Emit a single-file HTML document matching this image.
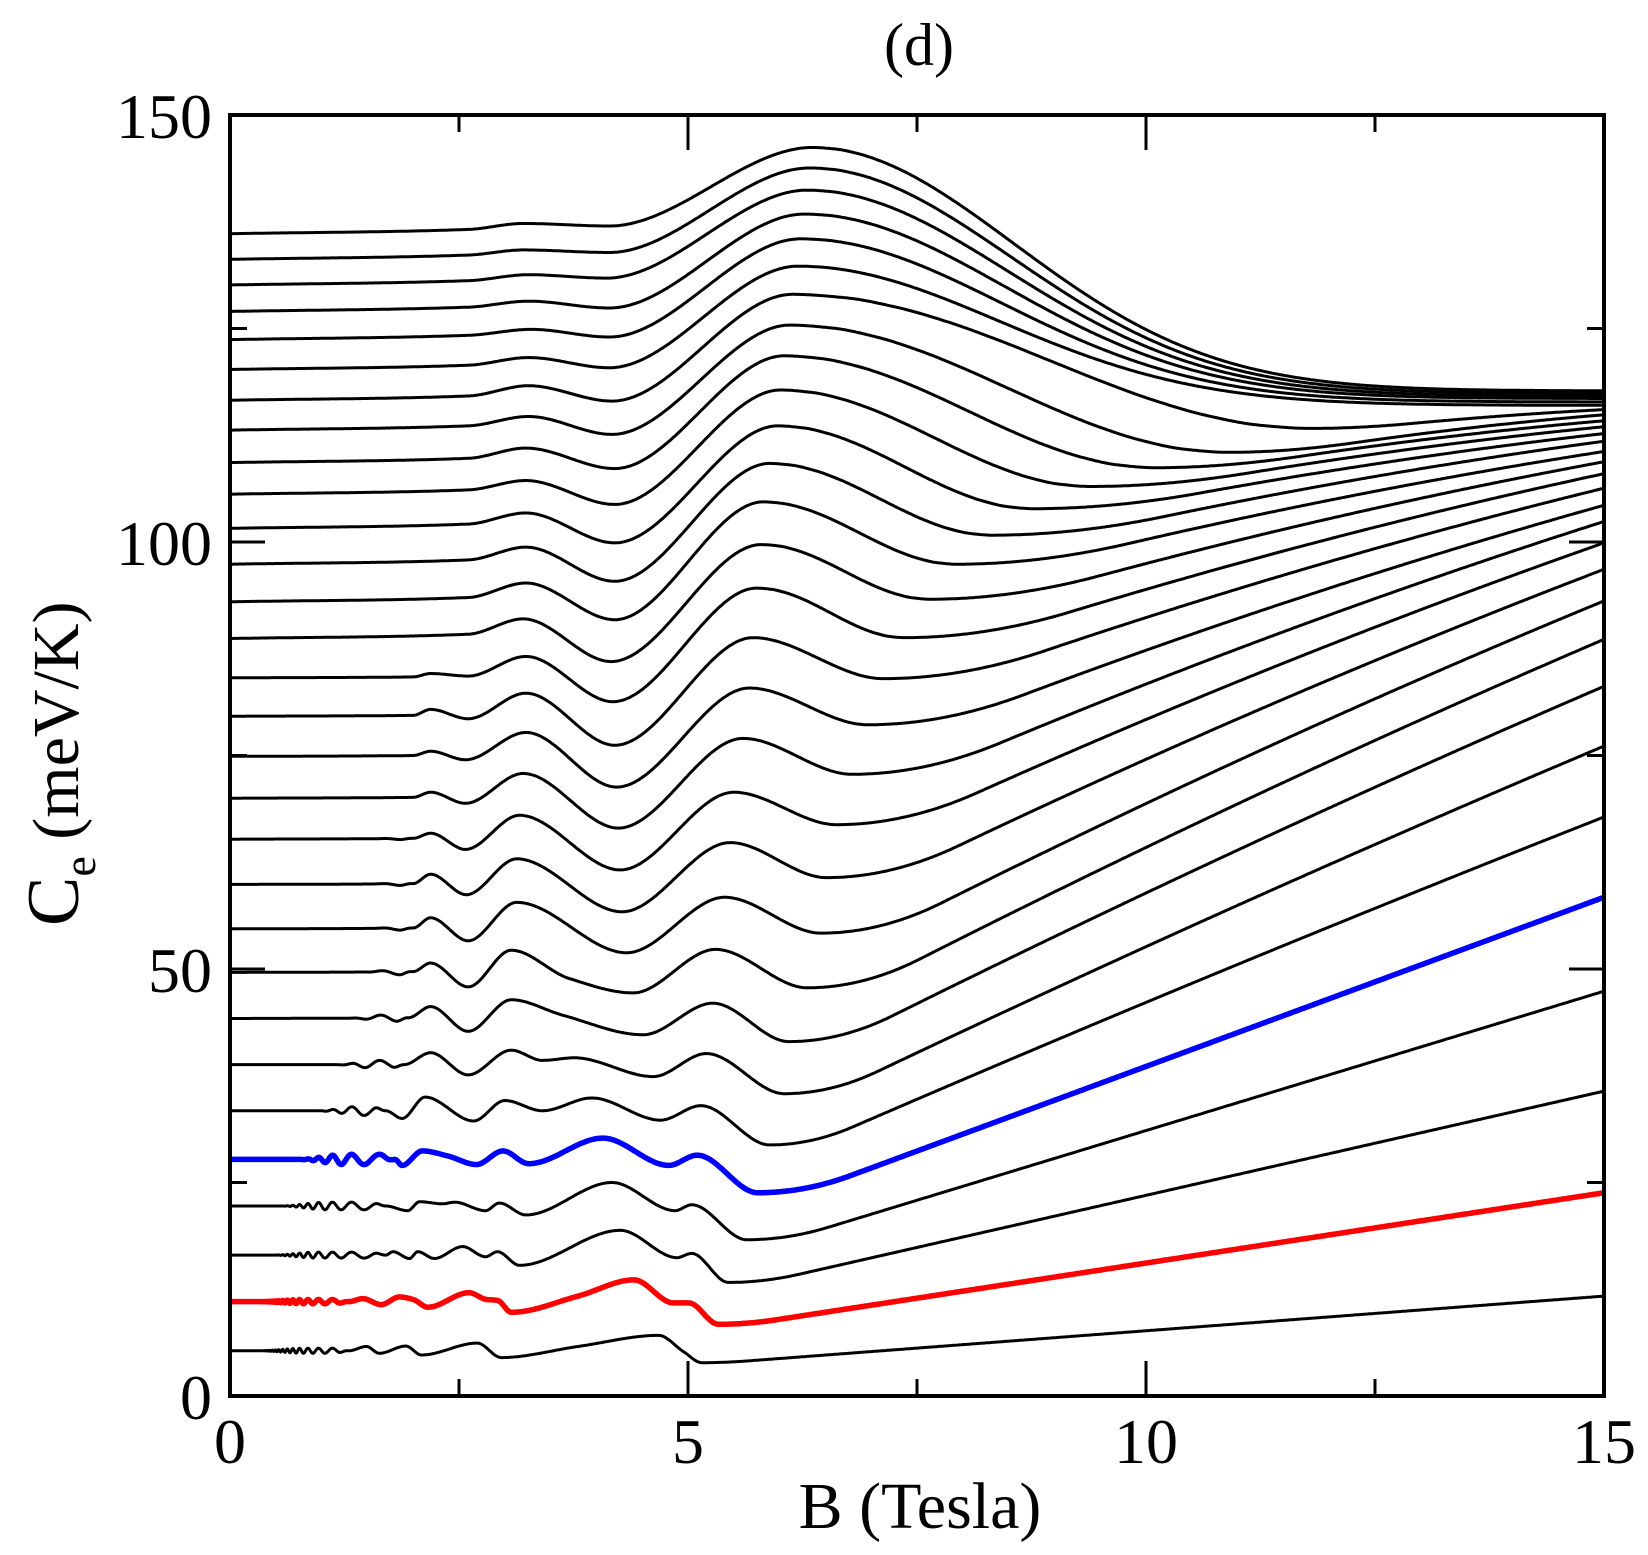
<!DOCTYPE html>
<html><head><meta charset="utf-8"><style>
html,body{margin:0;padding:0;background:#fff;}
svg{display:block;}
text{font-family:"Liberation Serif","Times New Roman",serif;fill:#000;}
</style></head><body>
<svg id="s" width="1648" height="1555" viewBox="0 0 1648 1555" xmlns="http://www.w3.org/2000/svg">
<defs><clipPath id="cp"><rect x="230" y="115" width="1374" height="1281"/></clipPath></defs>
<g id="curves" clip-path="url(#cp)"></g>
<rect x="230" y="115" width="1374" height="1281" fill="none" stroke="#000" stroke-width="4"/>
<g id="ticks" stroke="#000" stroke-width="3"></g>
<text x="919" y="65" font-size="60" text-anchor="middle">(d)</text>
<g font-size="64">
<text x="212" y="138" text-anchor="end">150</text>
<text x="212" y="565" text-anchor="end">100</text>
<text x="212" y="992" text-anchor="end">50</text>
<text x="212" y="1419" text-anchor="end">0</text>
<text x="230" y="1463" text-anchor="middle">0</text>
<text x="688" y="1463" text-anchor="middle">5</text>
<text x="1146" y="1463" text-anchor="middle">10</text>
<text x="1604" y="1463" text-anchor="middle">15</text>
</g>
<text x="920" y="1528" font-size="66" text-anchor="middle">B (Tesla)</text>
<text transform="translate(78,926) rotate(-90)" font-size="66"><tspan font-size="74">C</tspan><tspan font-size="46" dy="17">e</tspan><tspan dy="-17"> (meV/K)</tspan></text>
</svg>
<script>
(function(){
var NS="http://www.w3.org/2000/svg";
function X(b){return 230+b*91.6;}
function Y(c){return 1396-c*8.54;}
var tk=document.getElementById('ticks');
function line(x1,y1,x2,y2){var l=document.createElementNS(NS,'line');l.setAttribute('x1',x1);l.setAttribute('y1',y1);l.setAttribute('x2',x2);l.setAttribute('y2',y2);tk.appendChild(l);}
[0,5,10,15].forEach(function(b){line(X(b),1396,X(b),1361);line(X(b),115,X(b),150);});
[2.5,7.5,12.5].forEach(function(b){line(X(b),1396,X(b),1379);line(X(b),115,X(b),132);});
[0,50,100,150].forEach(function(c){line(230,Y(c),265,Y(c));line(1604,Y(c),1569,Y(c));});
[25,75,125].forEach(function(c){line(230,Y(c),247,Y(c));line(1604,Y(c),1587,Y(c));});

function pchip(xs,ys){
  var n=xs.length,h=[],d=[],m=[];
  for(var i=0;i<n-1;i++){h[i]=xs[i+1]-xs[i];d[i]=(ys[i+1]-ys[i])/h[i];}
  m[0]=d[0];m[n-1]=d[n-2];
  for(i=1;i<n-1;i++){
    if(d[i-1]*d[i]<=0)m[i]=0;
    else{var w1=2*h[i]+h[i-1],w2=h[i]+2*h[i-1];m[i]=(w1+w2)/(w1/d[i-1]+w2/d[i]);}
  }
  return function(x){
    var k=0;while(k<n-2&&x>xs[k+1])k++;
    var t=(x-xs[k])/h[k],t2=t*t,t3=t2*t;
    return (2*t3-3*t2+1)*ys[k]+(t3-2*t2+t)*h[k]*m[k]+(-2*t3+3*t2)*ys[k+1]+(t3-t2)*h[k]*m[k+1];
  };
}
var E=[
 [[0,5.3],[1.3,5.3],[1.49,5.8],[1.63,5.0],[1.92,5.85],[2.09,4.8],[2.7,6.2],[2.96,4.5],[3.8,5.8],[4.68,7.1],[4.95,5.2],[5.15,3.9]],
 [[0,11.05],[1.3,11.05],[1.45,11.4],[1.65,10.7],[1.85,11.6],[2.0,11.3],[2.16,10.4],[2.61,12.1],[2.8,11.3],[2.92,11.2],[3.07,9.8],[3.8,11.7],[4.41,13.6],[4.84,10.9],[5.01,10.9],[5.33,8.4]],
 [[0,16.5],[1.7,16.5],[1.78,16.9],[1.96,16.1],[2.05,16.9],[2.23,16.1],[2.54,17.5],[2.79,16.3],[2.92,16.9],[3.16,15.3],[4.26,19.4],[4.88,16.2],[5.04,16.7],[5.44,13.3]],
 [[0,22.25],[1.7,22.25],[1.94,21.7],[2.07,22.75],[2.32,22.5],[2.45,22.7],[2.79,21.7],[2.94,22.6],[3.23,21.2],[4.17,25.0],[4.86,21.7],[5.04,22.4],[5.64,18.3]],
 [[0,27.7],[1.8,27.7],[1.88,27.0],[2.1,28.7],[2.38,28.1],[2.69,27.1],[2.98,28.7],[3.26,27.2],[4.07,30.2],[4.79,27.0],[5.1,28.2],[5.76,23.8]],
 [[0,33.4],[1.7,33.4],[1.88,32.5],[2.13,35.0],[2.66,32.2],[3.0,34.6],[3.41,33.4],[3.95,34.9],[4.7,32.3],[5.14,34.0],[5.89,29.4]],
 [[0,38.8],[1.9,38.8],[2.19,40.2],[2.6,37.6],[3.07,40.5],[3.41,39.3],[3.76,39.6],[4.62,37.4],[5.2,40.1],[6.05,35.4]],
 [[0,44.2],[1.95,44.3],[2.19,45.6],[2.6,42.7],[3.07,46.4],[3.63,44.6],[4.51,42.3],[5.27,46.0],[6.1,41.5]],
 [[0,49.6],[2.0,49.7],[2.19,50.7],[2.6,47.9],[3.07,52.2],[3.7,48.9],[4.4,47.2],[5.3,52.3],[6.3,47.8]],
 [[0,54.7],[2.0,54.8],[2.19,56.0],[2.6,53.3],[3.13,57.8],[4.33,51.9],[5.4,58.4],[6.45,54.2]],
 [[0,59.9],[2.0,60.0],[2.19,61.1],[2.58,58.7],[3.13,62.9],[4.28,56.7],[5.46,64.8],[6.51,60.7]],
 [[0,65.2],[2.0,65.3],[2.19,65.9],[2.57,64.0],[3.16,68.0],[4.26,61.6],[5.5,70.7],[6.62,66.9]],
 [[0,70.0],[2.0,70.1],[2.19,70.7],[2.57,69.4],[3.2,72.9],[4.24,66.5],[5.6,77.0],[6.79,72.8]],
 [[0,74.9],[2.0,75.0],[2.19,75.5],[2.57,74.5],[3.23,77.7],[4.22,71.3],[5.67,82.9],[6.96,78.6]],
 [[0,79.6],[2.0,79.7],[2.19,80.4],[2.6,79.3],[3.23,82.3],[4.2,76.2],[5.71,88.8],[7.13,84.0]]
];
var R=[11.7,23.8,35.7,47.4,58.4,67.8,76.1,83.1,88.6,93.1,96.8,99.9,102.4,104.3,106.3,108.0,109.4,110.6,111.8,112.7,113.5,114.2,114.9,115.5,116.0,116.4,116.8,117.1,117.4,117.7];
var P=[
 [84.1,3.23,86.6,4.18,81.3,5.75,94.6,7.36,88.8],
 [88.7,3.2,91.0,4.16,86.0,5.8,99.7,7.64,93.3],
 [93.0,3.23,95.2,4.2,90.9,5.82,104.7,7.93,97.4],
 [97.4,3.23,99.4,4.2,95.4,5.89,109.2,8.32,100.8],
 [101.6,3.23,103.4,4.2,99.9,5.98,113.6,8.77,103.9],
 [105.6,3.23,107.2,4.2,104.4,6.01,117.8,9.39,106.5],
 [109.3,3.23,111.0,4.2,108.6,6.05,121.8,10.1,108.7],
 [113.1,3.26,114.7,4.17,112.6,6.11,125.4,10.9,110.5],
 [116.6,3.26,118.3,4.17,116.5,6.14,129.0,11.8,113.3],
 [120.2,3.26,121.6,4.14,120.4,6.2,132.3,null,null],
 [123.7,3.29,124.9,4.14,124.0,6.23,135.5,null,null],
 [127.0,3.26,128.2,4.14,127.4,6.27,138.4,null,null],
 [130.1,3.26,131.3,4.11,130.9,6.3,141.2,null,null],
 [133.1,3.2,134.2,4.14,133.9,6.33,143.8,null,null],
 [136.1,3.2,137.3,4.14,137.0,6.36,146.2,null,null]
];
function tail(k,i,Bm,Mn,Rv){
  var u0,beta;
  if(i<5){u0=0.05+0.015*i;beta=0;}
  else{var f=Math.min(1,Math.max(0,(i-5)/18));u0=0.1+0.25*f;beta=0.1+0.45*f;}
  var N=400,q=[0],s=0;
  for(var j=1;j<=N;j++){var u=(j-0.5)/N;s+=Math.min(1,u/u0)*(1-beta*u);q.push(s);}
  for(j=4;j<N;j+=4){var uu=j/N;k.push([Bm+uu*(15-Bm),Mn+(Rv-Mn)*q[j]/s]);}
  k.push([15,Rv]);
}
var knots=[];
for(var i=0;i<30;i++){
  var k;
  if(i<15){k=E[i].slice();var last=k[k.length-1];tail(k,i,last[0],last[1],R[i]);}
  else{
    var p=P[i-15],L=p[0];k=[[0,L]];
    if(i==15){k.push([2.0,84.2]);k.push([2.19,84.6]);k.push([2.6,84.3]);}
    else k.push([2.6,L+0.5]);
    k.push([p[1],p[2]]);k.push([p[3],p[4]]);k.push([p[5],p[6]]);
    if(p[7]!==null){
      for(var t=0.1;t<0.95;t+=0.1){k.push([p[5]+t*(p[7]-p[5]),p[8]+(p[6]-p[8])*(1+Math.cos(Math.PI*t))/2]);}
      k.push([p[7],p[8]]);tail(k,i,p[7],p[8],R[i]);
    }else{
      for(var B=p[5]+0.25;B<14.9;B+=0.25){k.push([B,R[i]+(p[6]-R[i])*Math.exp(-Math.pow((B-p[5])/3.1,2))]);}
      k.push([15,R[i]]);
    }
  }
  knots.push(k);
}
var W=[[1.3,0.3,0.3],[1.3,0.3,0.25],[1.7,0.45,0.35],[1.7,0.55,0.45],[1.8,0.75,0.6],[1.7,0.95,0.55],[1.9,1.15,0.5],[1.95,1.3,0.45],[2.0,1.45,0.4],[2.0,1.55,0.35],[2.0,1.55,0.3],[2.0,1.6,0.25],[2.0,1.8,0.15],[2.0,1.8,0.1]];
function ss(x){x=Math.max(0,Math.min(1,x));return x*x*(3-2*x);}
var g=document.getElementById('curves');
var order=[];for(i=0;i<30;i++)if(i!=1&&i!=4)order.push(i);order.push(1);order.push(4);
order.forEach(function(i){
  var k=knots[i],xs=k.map(function(a){return a[0];}),ys=k.map(function(a){return a[1];});
  var f=pchip(xs,ys),d="",B=0,first=true;
  while(B<=15.0001){
    var c=f(B);
    if(i<W.length&&B<W[i][0]&&B>0.2){
      var w=W[i];var env=ss((B-w[1])/0.5)*ss((w[0]-B)/0.15);
      c+=w[2]*env*Math.cos(2*Math.PI*(7.1/B-0.35));
    }
    d+=(first?"M":"L")+X(B).toFixed(1)+" "+Y(c).toFixed(1);first=false;
    B+=(B<2.2?0.004:0.02);
  }
  var pth=document.createElementNS(NS,'path');
  pth.setAttribute('d',d);pth.setAttribute('fill','none');
  pth.setAttribute('stroke',i==1?'#ff0000':(i==4?'#0000ff':'#000'));
  pth.setAttribute('stroke-width',(i==1||i==4)?'5.5':'3');
  pth.setAttribute('stroke-linejoin','round');
  g.appendChild(pth);
});
})();
</script>
</body></html>
